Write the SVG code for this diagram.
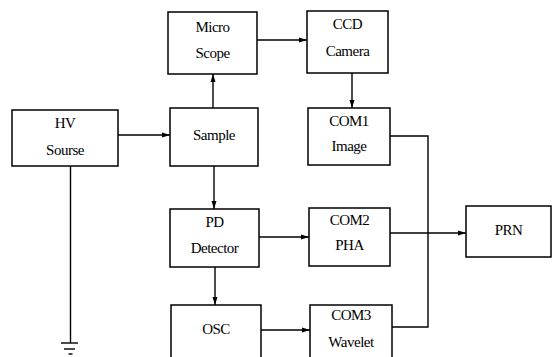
<svg xmlns="http://www.w3.org/2000/svg" width="554" height="357" viewBox="0 0 554 357">
<defs>
<marker id="arr" viewBox="0 0 8 6" refX="8" refY="3" markerWidth="8" markerHeight="6" markerUnits="userSpaceOnUse" orient="auto">
<path d="M0,0.5 L8,3 L0,5.5 Z" fill="#000"/>
</marker>
<style>
.box{fill:#fff;stroke:#000;stroke-width:1.5}
.t{font-size:15px;letter-spacing:-0.5px;text-anchor:middle;fill:#000}
.c{fill:none;stroke:#000;stroke-width:1.4}
.a{marker-end:url(#arr)}
</style>
</defs>
<rect width="554" height="357" fill="#fff"/>
<g id="connectors">
<line class="c a" x1="118" y1="135" x2="170" y2="135"/>
<line class="c a" x1="213" y1="108" x2="213" y2="74"/>
<line class="c a" x1="257" y1="40" x2="307" y2="40"/>
<line class="c a" x1="352" y1="73" x2="352" y2="108"/>
<line class="c a" x1="214" y1="166" x2="214" y2="209"/>
<line class="c a" x1="259" y1="237" x2="309" y2="237"/>
<line class="c a" x1="215" y1="267" x2="215" y2="305"/>
<line class="c a" x1="261" y1="330" x2="310" y2="330"/>
<polyline class="c" points="390,136 428,136 428,327 392,327"/>
<line class="c a" x1="390" y1="233" x2="466" y2="233"/>
<line class="c" x1="70.5" y1="166" x2="70.5" y2="343"/>
<line class="c" x1="61" y1="343" x2="78" y2="343" stroke-width="2"/>
<line class="c" x1="64" y1="349" x2="75" y2="349" stroke-width="1.8"/>
<line class="c" x1="68.5" y1="354" x2="72.5" y2="354" stroke-width="1.8"/>
</g>
<g font-family="'Liberation Serif', 'DejaVu Serif', 'Times New Roman', serif">
<g id="micro"><rect class="box" x="168" y="12" width="89" height="62"/><text class="t" x="212.5" y="32">Micro</text><text class="t" x="212.5" y="58">Scope</text></g>
<g id="ccd"><rect class="box" x="307" y="11" width="81" height="62"/><text class="t" x="347.5" y="29">CCD</text><text class="t" x="347.5" y="56">Camera</text></g>
<g id="hv"><rect class="box" x="12" y="110" width="106" height="56"/><text class="t" x="65" y="128">HV</text><text class="t" x="65" y="155">Sourse</text></g>
<g id="sample"><rect class="box" x="170" y="108" width="88" height="58"/><text class="t" x="214" y="140">Sample</text></g>
<g id="com1"><rect class="box" x="308" y="108" width="82" height="57"/><text class="t" x="349" y="126">COM1</text><text class="t" x="349" y="151">Image</text></g>
<g id="pd"><rect class="box" x="170" y="209" width="89" height="58"/><text class="t" x="214.5" y="227">PD</text><text class="t" x="214.5" y="253">Detector</text></g>
<g id="com2"><rect class="box" x="309" y="208" width="81" height="58"/><text class="t" x="349.5" y="225">COM2</text><text class="t" x="349.5" y="250">PHA</text></g>
<g id="prn"><rect class="box" x="466" y="206" width="85" height="51"/><text class="t" x="508.5" y="235">PRN</text></g>
<g id="osc"><rect class="box" x="171" y="305" width="90" height="60"/><text class="t" x="216" y="334">OSC</text></g>
<g id="com3"><rect class="box" x="310" y="305" width="82" height="60"/><text class="t" x="351" y="320">COM3</text><text class="t" x="351" y="347">Wavelet</text></g>
</g>
</svg>
